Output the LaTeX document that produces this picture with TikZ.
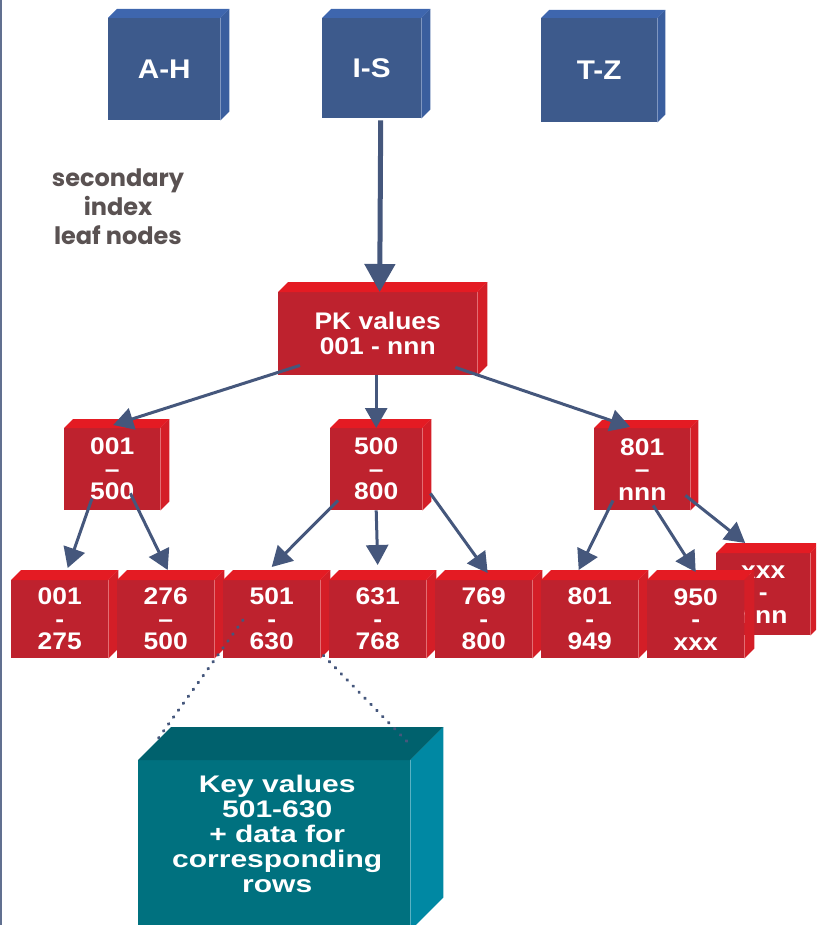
\documentclass[tikz,border=0pt]{standalone}
\usepackage{fontspec}
\newfontfamily\boxfont[FakeStretch=1.1]{Liberation Sans}
\newfontfamily\rowfont[FakeStretch=1.25]{Liberation Sans}
\newfontfamily\notefont{Poppins}
\usetikzlibrary{arrows.meta,positioning}

\definecolor{blufront}{HTML}{3D5A8C}
\definecolor{blutop}{HTML}{3E66AE}
\definecolor{bluside}{HTML}{3A5E9E}
\definecolor{redfront}{HTML}{BE222E}
\definecolor{redtop}{HTML}{E41B23}
\definecolor{redside}{HTML}{D41E27}
\definecolor{tealfront}{HTML}{00717F}
\definecolor{tealtop}{HTML}{00616D}
\definecolor{tealside}{HTML}{0088A3}
\definecolor{linkcol}{HTML}{45577C}
\definecolor{notecol}{HTML}{5A5252}

% top and right face of a box node: node, depth, top colour, side colour
\newcommand{\cubefaces}[4]{%
  \fill[#3] (#1.north west) -- ++(#2,-#2) -- ([shift={(#2,-#2)}]#1.north east) -- (#1.north east) -- cycle;
  \fill[#4] (#1.north east) -- ++(#2,-#2) -- ([shift={(#2,-#2)}]#1.south east) -- (#1.south east) -- cycle;
}

\tikzset{
  bluebox/.style={fill=blufront, text=white, inner sep=0pt, anchor=north west,
    font=\boxfont\bfseries\fontsize{27}{30}\selectfont},
  redbox/.style={fill=redfront, text=white, inner sep=0pt, anchor=north west, align=center,
    font=\boxfont\bfseries\fontsize{24}{22.5}\selectfont},
  leafbox/.style={redbox, minimum width=97pt, minimum height=78pt},
  keybox/.style={fill=tealfront, inner sep=0pt, anchor=north west},
  keytext/.style={text=white, inner sep=0pt, anchor=north, align=center,
    font=\rowfont\bfseries\fontsize{24}{25}\selectfont},
  note/.style={text=notecol, align=center, inner sep=0pt,
    font=\notefont\bfseries\fontsize{24}{29}\selectfont},
  link/.style={draw=linkcol, line width=3pt, -{Triangle[length=20pt, width=22pt]}},
  biglink/.style={link, line width=5pt, -{Triangle[length=28pt, width=30pt]}},
  dots/.style={draw=linkcol, line width=3.2pt, line cap=round, dash pattern=on 0.6pt off 7.9pt},
}

\begin{document}
\begin{tikzpicture}[x=1pt, y=-1pt]
\useasboundingbox (0,0) rectangle (816,925);
\clip (0,0) rectangle (816,925);
\draw[linkcol!85, line width=2pt] (1,0) -- (1,925);

% secondary index
\node[bluebox, minimum width=112pt, minimum height=102pt] (ah) at (108,18) {A-H};
\cubefaces{ah}{9}{blutop}{bluside}
\node[bluebox, minimum width=99pt, minimum height=100pt] (is) at (322,18) {I-S};
\cubefaces{is}{9}{blutop}{bluside}
\node[bluebox, minimum width=116pt, minimum height=104pt] (tz) at (541,18) {T-Z};
\cubefaces{tz}{8}{blutop}{bluside}
\node[note] (leafnote) at (118,207) {secondary\\index\\leaf nodes};

% primary key tree
\node[redbox, minimum width=199pt, minimum height=83pt, font=\boxfont\bfseries\fontsize{24}{25}\selectfont]
  (pk) at (278,292) {PK values\\001 - nnn};
\cubefaces{pk}{10}{redtop}{redside}

\node[redbox, minimum width=96pt, minimum height=82pt] (m1) at (64,428) {001\\\textendash\\500};
\cubefaces{m1}{9}{redtop}{redside}
\node[redbox, minimum width=92pt, minimum height=82pt] (m2) at (330,428) {500\\\textendash\\800};
\cubefaces{m2}{9}{redtop}{redside}
\node[redbox, minimum width=96pt, minimum height=82pt] (m3) at (594,428) {801\\\textendash\\nnn};
\cubefaces{m3}{8}{redtop}{redside}

% leaf pages
\node[leafbox, minimum width=94pt, minimum height=82pt] (lfxxx) at (716,553) {xxx\\-\\nnn};
\cubefaces{lfxxx}{10}{redtop}{redside}
\foreach \lo/\mk/\hi [count=\i from 0] in {001/-/275, 276/\textendash/500, 501/-/630,
    631/-/768, 769/-/800, 801/-/949, 950/-/xxx}{
  \node[leafbox] (lf\lo) at ({11+106*\i},580) {\lo\\\mk\\\hi};
  \cubefaces{lf\lo}{10}{redtop}{redside}
}

% data rows
\node[keybox, minimum width=272pt, minimum height=170pt] (rows) at (138,760) {};
\cubefaces{rows}{33}{tealtop}{tealside}
\node[keytext] (rowstext) at ([shift={(3,15)}]rows.north)
  {Key values\\501-630\\+ data for\\corresponding\\rows};

% links
\draw[biglink] ([shift={(9,2)}]is.south) -- ([shift={(2,0)}]pk.north);
\draw[link] ([shift={(22,-10)}]pk.south west) -- ([shift={(1,-3)}]m1.north);
\draw[link] (pk.south -| m2.north) -- (m2.north);
\draw[link] ([shift={(-22,-8)}]pk.south east) -- ([shift={(-12,-1)}]m3.north);
\draw[link] ([shift={(28,-12)}]m1.south west) -- ([shift={(8,-12)}]lf001.north);
\draw[link] ([shift={(-30,-17)}]m1.south east) -- ([shift={(2,-10)}]lf276.north);
\draw[link] ([shift={(8,-10)}]m2.south west) -- ([shift={(0,-13)}]lf501.north);
\draw[link] (m2.south) -- ([shift={(0,-15)}]lf631.north);
\draw[link] ([shift={(8,-17)}]m2.south east) -- ([shift={(4,-7)}]lf769.north);
\draw[link] ([shift={(19,-10)}]m3.south west) -- ([shift={(-11,-10)}]lf801.north);
\draw[link] ([shift={(11,-5)}]m3.south) -- ([shift={(0,-8)}]lf950.north);
\draw[link] ([shift={(-5,-15)}]m3.south east) -- ([shift={(-18,-10)}]lfxxx.north);

\draw[dots] ([shift={(20,40)}]lf501.north west) -- ([shift={(17,-17)}]rows.north west);
\draw[dots] ([shift={(3,-3)}]lf501.south east) -- ([shift={(0,-15)}]rows.north east);
\end{tikzpicture}
\end{document}
